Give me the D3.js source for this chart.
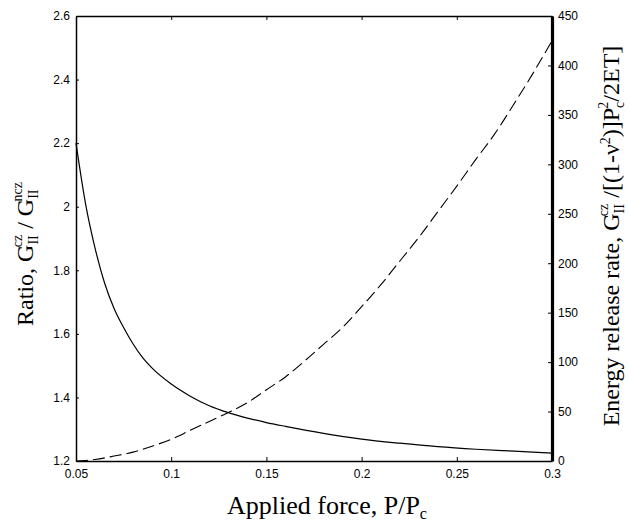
<!DOCTYPE html>
<html>
<head>
<meta charset="utf-8">
<script src="https://cdn.jsdelivr.net/npm/d3@7"></script>
<style>
  body { margin: 0; background: #fff; }
  .tick text { font-family: "Liberation Sans", Arial, sans-serif; font-size: 12px; fill: #000; }
  .title { font-family: "Liberation Serif", "Times New Roman", serif; font-size: 24px; fill: #000; }
</style>
</head>
<body>
<script>
const WIDTH = 628;
const HEIGHT = 525;
const LEFT = 76, RIGHT = 552, TOP = 16, BOTTOM = 461;

// applied force P/Pc
const forceRatio = [0.05, 0.055, 0.06, 0.065, 0.07, 0.075, 0.08, 0.085, 0.09, 0.1, 0.11, 0.12,
                    0.13, 0.14, 0.15, 0.16, 0.18, 0.2, 0.22, 0.24, 0.26, 0.28, 0.3];
// ratio G_II^cz / G_II^ncz
const gRatio = [2.20, 2.01, 1.87, 1.76, 1.68, 1.62, 1.568, 1.525, 1.492, 1.442, 1.404, 1.374,
                1.352, 1.335, 1.321, 1.309, 1.287, 1.269, 1.256, 1.245, 1.237, 1.231, 1.225];

const forceEnergy = [0.05, 0.06, 0.07, 0.08, 0.09, 0.1, 0.11, 0.12, 0.13, 0.14, 0.15, 0.16, 0.17,
                     0.18, 0.19, 0.2, 0.21, 0.22, 0.23, 0.24, 0.25, 0.26, 0.27, 0.28, 0.29, 0.3];
// normalised energy release rate
const energy = [0, 1.5, 5, 9, 15, 22, 31, 40, 49, 59, 72, 85, 101,
                118, 135, 156, 178, 202, 226, 252, 278, 305, 331, 361, 392, 425];

const xTicks = [0.05, 0.1, 0.15, 0.2, 0.25, 0.3];
const xTickLabels = ['0.05', '0.1', '0.15', '0.2', '0.25', '0.3'];
const leftTicks = [1.2, 1.4, 1.6, 1.8, 2, 2.2, 2.4, 2.6];
const rightTicks = [0, 50, 100, 150, 200, 250, 300, 350, 400, 450];

var svg = d3.select('body').append('svg')
    .attr('width', WIDTH)
    .attr('height', HEIGHT);

var xScale = d3.scaleLinear().domain([0.05, 0.3]).range([LEFT, RIGHT]);
var yLeft = d3.scaleLinear().domain([1.2, 2.6]).range([BOTTOM, TOP]);
var yRight = d3.scaleLinear().domain([0, 450]).range([BOTTOM, TOP]);

var translate = function(x, y) {
    return 'translate(' + x + ',' + y + ')';
};

// axes, ticks pointing inward
svg.append('g')
    .attr('transform', translate(0, BOTTOM))
    .call(d3.axisBottom(xScale).tickValues(xTicks)
        .tickFormat(function(d, i) { return xTickLabels[i]; })
        .tickSizeInner(-4).tickSizeOuter(0).tickPadding(8));

svg.append('g')
    .attr('transform', translate(0, TOP))
    .call(d3.axisTop(xScale).tickValues(xTicks).tickFormat('')
        .tickSizeInner(-4).tickSizeOuter(0));

svg.append('g')
    .attr('class', 'left-axis')
    .attr('transform', translate(LEFT, 0))
    .call(d3.axisLeft(yLeft).tickValues(leftTicks).tickFormat(d3.format('~g'))
        .tickSizeInner(-3).tickSizeOuter(0).tickPadding(6));

svg.append('g')
    .attr('class', 'right-axis')
    .attr('transform', translate(RIGHT, 0))
    .call(d3.axisRight(yRight).tickValues(rightTicks)
        .tickSizeInner(-4).tickSizeOuter(0).tickPadding(6));

svg.selectAll('.domain').attr('stroke', '#000').attr('stroke-width', 1.5);
svg.select('.right-axis .domain').attr('stroke-width', 3.2);
svg.selectAll('.tick line').attr('stroke', '#000').attr('stroke-width', 1);

// curves
var ratioLine = d3.line()
    .x(function(d, i) { return xScale(forceRatio[i]); })
    .y(function(d) { return yLeft(d); })
    .curve(d3.curveMonotoneX);

var energyLine = d3.line()
    .x(function(d, i) { return xScale(forceEnergy[i]); })
    .y(function(d) { return yRight(d); })
    .curve(d3.curveMonotoneX);

svg.append('path')
    .attr('d', ratioLine(gRatio))
    .attr('fill', 'none')
    .attr('stroke', '#000')
    .attr('stroke-width', 1.2);

svg.append('path')
    .attr('d', energyLine(energy))
    .attr('fill', 'none')
    .attr('stroke', '#000')
    .attr('stroke-width', 1.1)
    .attr('stroke-dasharray', '12,5');

// titles
var xt = svg.append('text').attr('class', 'title')
    .attr('x', 327).attr('y', 514).attr('text-anchor', 'middle')
    .attr('font-size', 26).style('font-size', '26px');
xt.append('tspan').text('Applied force, P/P');
xt.append('tspan').attr('dy', 5).attr('font-size', 16).style('font-size', '16px').text('c');

var lt = svg.append('text').attr('class', 'title')
    .attr('transform', translate(33, 254) + ' rotate(-90)')
    .attr('text-anchor', 'middle');
lt.append('tspan').text('Ratio,  G');
lt.append('tspan').attr('dy', 5).attr('font-size', 14).text('II');
lt.append('tspan').attr('dx', -12).attr('dy', -16).attr('font-size', 14).text('cz');
lt.append('tspan').attr('dy', 11).text(' / G');
lt.append('tspan').attr('dy', 5).attr('font-size', 14).text('II');
lt.append('tspan').attr('dx', -12).attr('dy', -16).attr('font-size', 14).text('ncz');

var rt = svg.append('text').attr('class', 'title')
    .attr('transform', translate(619, 236) + ' rotate(-90)')
    .attr('text-anchor', 'middle');
rt.append('tspan').text('Energy release rate, G');
rt.append('tspan').attr('dy', 5).attr('font-size', 14).text('II');
rt.append('tspan').attr('dx', -12).attr('dy', -16).attr('font-size', 14).text('cz');
rt.append('tspan').attr('dy', 11).text(' /[(1-\u03bd');
rt.append('tspan').attr('dy', -9).attr('font-size', 14).text('2');
rt.append('tspan').attr('dy', 9).text(')]P');
rt.append('tspan').attr('dy', 5).attr('font-size', 14).text('c');
rt.append('tspan').attr('dx', -7).attr('dy', -16).attr('font-size', 14).text('2');
rt.append('tspan').attr('dy', 11).text('/2ET]');
</script>
</body>
</html>
